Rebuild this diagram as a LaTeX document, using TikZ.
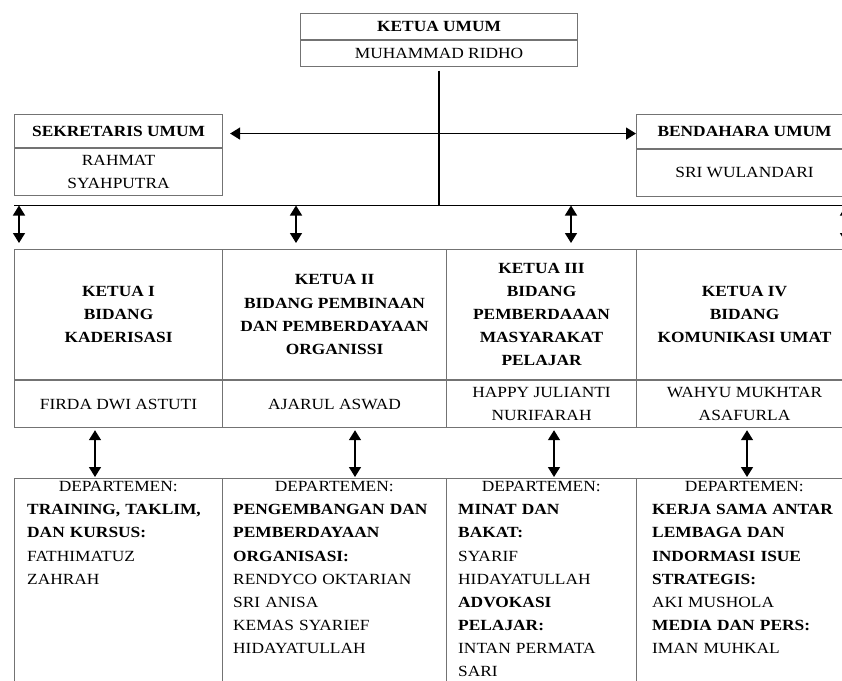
\documentclass[tikz,border=0pt]{standalone}
\usepackage{fontspec}
\setmainfont{Liberation Serif}[FakeStretch=1.12]
\usetikzlibrary{arrows.meta,calc}
\newcommand\orgfs{\fontsize{15.5}{23.1}\selectfont}
\definecolor{boxgray}{gray}{0.45}
\begin{document}
\begin{tikzpicture}[x=1pt,y=-1pt,
  box/.style={draw=boxgray,line width=1.1pt,inner sep=0pt,anchor=north west,align=center},
  bf/.style={font=\orgfs\bfseries},
  rm/.style={font=\orgfs},
  dbl/.style={{Triangle[length=10pt,width=12pt]}-{Triangle[length=10pt,width=12pt]},line width=1.5pt},
  link/.style={line width=1.3pt},
  dept/.style={anchor=base west,align=left,inner sep=0pt,font=\orgfs}]
\useasboundingbox (0,0) rectangle (842,680);
\clip (0,0) rectangle (842,680);

% Ketua umum
\node[box,bf,minimum width=277pt,minimum height=26pt] (ku1) at (300,12.5) {KETUA UMUM};
\node[box,rm,minimum width=277pt,minimum height=26pt] (ku2) at (ku1.south west) {MUHAMMAD RIDHO};

% Sekretaris / Bendahara
\node[box,bf,minimum width=208pt,minimum height=33pt] (sek1) at (14,114) {SEKRETARIS UMUM};
\node[box,rm,minimum width=208pt,minimum height=47pt] (sek2) at (sek1.south west) {RAHMAT\\SYAHPUTRA};
\node[box,bf,minimum width=216pt,minimum height=33.5pt] (ben1) at (636,114) {BENDAHARA UMUM};
\node[box,rm,minimum width=216pt,minimum height=47pt] (ben2) at (ben1.south west) {SRI WULANDARI};

\draw[dbl,shorten <=7pt] ([yshift=-2.5pt]sek1.east) -- ([yshift=-2.5pt]sek1.east -| ben1.west);

% bus
\coordinate (busL) at (14,205.5);
\coordinate (busR) at (860,205.5);
\draw[link] (busL) -- (busR);
\draw[link] ([yshift=-4pt]ku2.south) -- (ku2.south |- busL);

% Ketua row
\node[box,bf,minimum width=208pt,minimum height=130pt] (k1) at (14,249) {KETUA I\\BIDANG\\KADERISASI};
\node[box,bf,minimum width=224pt,minimum height=130pt] (k2) at (222,249) {KETUA II\\BIDANG PEMBINAAN\\DAN PEMBERDAYAAN\\ORGANISSI};
\node[box,bf,minimum width=190pt,minimum height=130pt] (k3) at (446,249) {KETUA III\\BIDANG\\PEMBERDAAAN\\MASYARAKAT\\PELAJAR};
\node[box,bf,minimum width=216pt,minimum height=130pt] (k4) at (636,249) {KETUA IV\\BIDANG\\KOMUNIKASI UMAT};

\node[box,rm,minimum width=208pt,minimum height=47pt] (n1) at (k1.south west) {FIRDA DWI ASTUTI};
\node[box,rm,minimum width=224pt,minimum height=47pt] (n2) at (k2.south west) {AJARUL ASWAD};
\node[box,rm,minimum width=190pt,minimum height=47pt] (n3) at (k3.south west) {HAPPY JULIANTI\\NURIFARAH};
\node[box,rm,minimum width=216pt,minimum height=47pt] (n4) at (k4.south west) {WAHYU MUKHTAR\\ASAFURLA};

% bus arrows
\coordinate (b1) at (19,205.5);
\coordinate (b2) at (296,205.5);
\coordinate (b3) at (571,205.5);
\coordinate (b4) at (846,205.5);
\draw[dbl,shorten >=6pt] (b1) -- (b1 |- k1.north);
\draw[dbl,shorten >=6pt] (b2) -- (b2 |- k2.north);
\draw[dbl,shorten >=6pt] (b3) -- (b3 |- k3.north);
\draw[dbl,shorten >=6pt] (b4) -- (b4 |- k4.north);

% Department boxes
\node[box,minimum width=208pt,minimum height=230pt] (d1) at (14,478) {};
\node[box,minimum width=224pt,minimum height=230pt] (d2) at (222,478) {};
\node[box,minimum width=190pt,minimum height=230pt] (d3) at (446,478) {};
\node[box,minimum width=216pt,minimum height=230pt] (d4) at (636,478) {};

% lower arrows
\coordinate (a1) at (95,0);
\coordinate (a2) at (355,0);
\coordinate (a3) at (554,0);
\coordinate (a4) at (747,0);
\draw[dbl,shorten <=2pt,shorten >=1pt] (n1.south -| a1) -- (d1.north -| a1);
\draw[dbl,shorten <=2pt,shorten >=1pt] (n2.south -| a2) -- (d2.north -| a2);
\draw[dbl,shorten <=2pt,shorten >=1pt] (n3.south -| a3) -- (d3.north -| a3);
\draw[dbl,shorten <=2pt,shorten >=1pt] (n4.south -| a4) -- (d4.north -| a4);

% Department texts
\node[dept,text width=182pt] (t1) at (27,491.7) {\makebox[\linewidth]{DEPARTEMEN:}\\
{\bfseries TRAINING, TAKLIM,}\\
{\bfseries DAN KURSUS:}\\
FATHIMATUZ\\
ZAHRAH};
\node[dept,text width=202pt] (t2) at (233,491.7) {\makebox[\linewidth]{DEPARTEMEN:}\\
{\bfseries PENGEMBANGAN DAN}\\
{\bfseries PEMBERDAYAAN}\\
{\bfseries ORGANISASI:}\\
RENDYCO OKTARIAN\\
SRI ANISA\\
KEMAS SYARIEF\\
HIDAYATULLAH};
\node[dept,text width=166pt] (t3) at (458,491.7) {\makebox[\linewidth]{DEPARTEMEN:}\\
{\bfseries MINAT DAN}\\
{\bfseries BAKAT:}\\
SYARIF\\
HIDAYATULLAH\\
{\bfseries ADVOKASI}\\
{\bfseries PELAJAR:}\\
INTAN PERMATA\\
SARI};
\node[dept,text width=184pt] (t4) at (652,491.7) {\makebox[\linewidth]{DEPARTEMEN:}\\
{\bfseries KERJA SAMA ANTAR}\\
{\bfseries LEMBAGA DAN}\\
{\bfseries INDORMASI ISUE}\\
{\bfseries STRATEGIS:}\\
AKI MUSHOLA\\
{\bfseries MEDIA DAN PERS:}\\
IMAN MUHKAL};
\end{tikzpicture}
\end{document}
